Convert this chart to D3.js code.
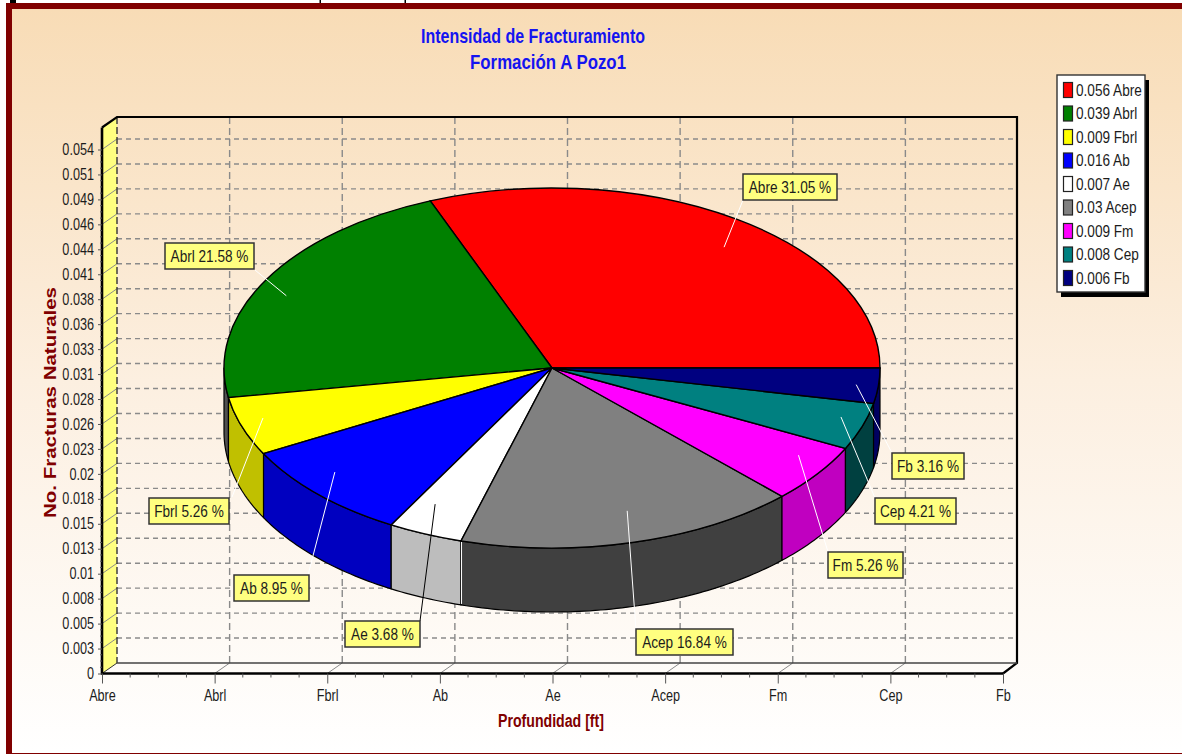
<!DOCTYPE html>
<html><head><meta charset="utf-8">
<script src="https://cdn.jsdelivr.net/npm/d3@7"></script>
<style>
html,body{margin:0;padding:0;background:#fff;overflow:hidden}
svg{display:block}
text{font-family:"Liberation Sans",Arial,sans-serif;fill:#1c1c1c}
</style></head><body>
<svg id="c" width="1182" height="754"></svg>
<script>
// ---- data ----
const categories = ["Abre","Abrl","Fbrl","Ab","Ae","Acep","Fm","Cep","Fb"];
const values = [0.056,0.039,0.009,0.016,0.007,0.03,0.009,0.008,0.006];
const percents = [31.05,21.58,5.26,8.95,3.68,16.84,5.26,4.21,3.16];
const yTickLabels = ["0","0.003","0.005","0.008","0.01","0.013","0.015","0.018","0.02","0.023","0.026","0.028","0.031","0.033","0.036","0.038","0.041","0.044","0.046","0.049","0.051","0.054"];
const titleLines = ["Intensidad de Fracturamiento","Formación A Pozo1"];
const xTitle = "Profundidad [ft]";
const yTitle = "No. Fracturas Naturales";
const yMax = 0.054;

// ---- styles ----
const topColors  = ["#ff0000","#008000","#ffff00","#0000ff","#ffffff","#808080","#ff00ff","#008080","#000080"];
const sideColors = ["#800000","#505050","#c0c000","#0000c0","#bdbdbd","#404040","#c000c0","#004040","#000060"];

// ---- layout ----
const W=1182,H=754;
const plot={x0:102,x1:1003,y0:673.5,y1:149.5,dx:15,dy:-10.5,top:117};
const pieG={cx:552,cy:368,rx:328,ry:180,depth:64};
// callout layout: leader start (polar offset on the pie), leader end and box
const leaderRadius=[.852,.904,.924,.879,.836,.826,.894,.922,.932];
const leaderShift=[-3.9,3,-1.45,-3.4,-2.5,1.9,3.2,1.8,0];
const leaderEnd=[[743,200],[255,270],[232,497],[308,575],[420,621],[636,630],[828,552],[875,498],[892,453]];
const boxes=[[743,174,94],[165,243,89],[149,498,80],[234,575,75],[345,621,75],[636,629,97],[828,552,75],[875,498,81],[892,453,72]];
const narrowAxis=.79, narrowBox=.85;

const svg=d3.select("#c");
const defs=svg.append("defs");
const lg=defs.append("linearGradient").attr("id","bg").attr("x1",0).attr("x2",0).attr("y1",0).attr("y2",1);
lg.append("stop").attr("offset",0).attr("stop-color","#f8dcb6");
lg.append("stop").attr("offset",.5).attr("stop-color","#fcefe0");
lg.append("stop").attr("offset",1).attr("stop-color","#ffffff");

// frame
svg.append("rect").attr("x",6).attr("y",3).attr("width",W-6).attr("height",751).attr("fill","#800000");
svg.append("rect").attr("x",12).attr("y",9).attr("width",W-12).attr("height",744).attr("fill","url(#bg)");

// fragments of a cropped page heading above the frame
svg.selectAll("rect.cut").data([[10,6],[319.5,1.5],[404.5,1.5]]).join("rect").attr("class","cut")
  .attr("x",d=>d[0]).attr("y",0).attr("width",d=>d[1]).attr("height",3).attr("fill","#000");

// scales
const x=d3.scalePoint().domain(categories).range([plot.x0,plot.x1]);
const y=d3.scaleLinear().domain([0,yMax]).range([plot.y0,plot.y1]);
const yTicks=yTickLabels.map((_,i)=>i*yMax/(yTickLabels.length-1));
const gridCol="#8a8a8a";

// left wall
const wall=d3.line();
svg.append("path").attr("d",wall([[plot.x0,plot.top-plot.dy],[plot.x0+plot.dx,plot.top],[plot.x0+plot.dx,plot.y0+plot.dy],[plot.x0,plot.y0]])+"Z").attr("fill","#ffff80");

// grid
const g=svg.append("g").attr("fill","none").attr("stroke",gridCol);
g.selectAll("line.h").data(yTicks.slice(1)).join("line").attr("class","h")
  .attr("x1",plot.x0+plot.dx).attr("x2",plot.x1+plot.dx-2)
  .attr("y1",d=>y(d)+plot.dy).attr("y2",d=>y(d)+plot.dy)
  .attr("stroke-width",1.4).attr("stroke-dasharray","5 4");
g.selectAll("line.w").data(yTicks.slice(1)).join("line").attr("class","w")
  .attr("x1",plot.x0).attr("x2",plot.x0+plot.dx)
  .attr("y1",d=>y(d)).attr("y2",d=>y(d)+plot.dy).attr("stroke-width",1);
g.selectAll("line.v").data(categories.slice(1,-1)).join("line").attr("class","v")
  .attr("x1",d=>x(d)+plot.dx).attr("x2",d=>x(d)+plot.dx)
  .attr("y1",plot.top).attr("y2",plot.y0+plot.dy)
  .attr("stroke-width",1.4).attr("stroke-dasharray","7 4");
g.selectAll("line.f").data(categories.slice(1,-1)).join("line").attr("class","f")
  .attr("x1",d=>x(d)).attr("x2",d=>x(d)+plot.dx)
  .attr("y1",plot.y0).attr("y2",plot.y0+plot.dy).attr("stroke-width",1);
g.append("line").attr("x1",plot.x0+plot.dx).attr("x2",plot.x0+plot.dx).attr("y1",plot.top).attr("y2",plot.y0+plot.dy)
  .attr("stroke","#333").attr("stroke-width",1.4).attr("stroke-dasharray","7 3");

// box edges
const edge=svg.append("g").attr("fill","none").attr("stroke","#000");
const backR=plot.x1+plot.dx-1, backB=plot.y0+plot.dy;
edge.append("path").attr("stroke-width",2.2).attr("d",wall([[plot.x0,plot.top-plot.dy],[plot.x0+plot.dx,plot.top],[backR,plot.top],[backR,backB],[plot.x1,plot.y0]]));
edge.append("line").attr("x1",plot.x0+plot.dx).attr("x2",backR).attr("y1",backB).attr("y2",backB).attr("stroke","#444").attr("stroke-width",1.4);
edge.append("line").attr("x1",plot.x0).attr("x2",plot.x0+plot.dx).attr("y1",plot.y0).attr("y2",backB).attr("stroke","#333").attr("stroke-width",1);

// axes
const yAxis=d3.axisLeft(y).tickValues(yTicks).tickFormat((d,i)=>yTickLabels[i]).tickSize(4).tickPadding(4);
const yG=svg.append("g").attr("transform",`translate(${plot.x0},0)`).call(yAxis);
const xAxis=d3.axisBottom(x).tickSize(10).tickPadding(6);
const xG=svg.append("g").attr("transform",`translate(0,${plot.y0})`).call(xAxis);
[yG,xG].forEach(a=>{a.attr("font-family",null).attr("font-size",null);
  a.selectAll("text").attr("class","nw").attr("font-size",16);
  a.selectAll(".tick line").attr("stroke","#555");
  a.select(".domain").remove();});
edge.append("line").attr("x1",plot.x0).attr("x2",plot.x0).attr("y1",plot.top-plot.dy).attr("y2",plot.y0+1).attr("stroke-width",2.6);
edge.append("line").attr("x1",plot.x0-1).attr("x2",plot.x1+1).attr("y1",plot.y0).attr("y2",plot.y0).attr("stroke-width",2.6);
// minor ticks
const stepX=x.step(),stepY=yTicks[1];
const minorX=d3.range(0,categories.length-1).flatMap(i=>[1,2,3].map(k=>plot.x0+(i+k/4)*stepX));
svg.append("g").selectAll("line").data(minorX).join("line").attr("x1",d=>d).attr("x2",d=>d)
  .attr("y1",plot.y0).attr("y2",plot.y0+4).attr("stroke","#555");
const minorY=d3.range(0,yTicks.length-1).flatMap(i=>[1,2,3].map(k=>(i+k/4)*stepY));
svg.append("g").selectAll("line").data(minorY).join("line").attr("x1",plot.x0-2).attr("x2",plot.x0)
  .attr("y1",d=>y(d)).attr("y2",d=>y(d)).attr("stroke","#555");

// titles
svg.selectAll("text.title").data(titleLines).join("text").attr("class","title")
  .attr("x",(d,i)=>[421,470][i]).attr("y",(d,i)=>[43,69][i])
  .attr("textLength",(d,i)=>[224,156][i]).attr("lengthAdjust","spacingAndGlyphs")
  .attr("font-size",21).attr("font-weight","bold").style("fill","#1414f0").text(d=>d);
svg.append("text").attr("x",498).attr("y",727).attr("textLength",106).attr("lengthAdjust","spacingAndGlyphs")
  .attr("font-size",18).attr("font-weight","bold").style("fill","#800000").text(xTitle);
svg.append("text").attr("transform","translate(56,518) rotate(-90)").attr("textLength",231).attr("lengthAdjust","spacingAndGlyphs")
  .attr("font-size",16).attr("font-weight","bold").style("fill","#800000").text(yTitle);

// pie
const pieFn=d3.pie().value(d=>d.p).sort(null).startAngle(Math.PI/2).endAngle(Math.PI/2-2*Math.PI);
const slices=pieFn(categories.map((c,i)=>({c,p:percents[i],i})));
const ptAt=(a,r=1,dz=0)=>[pieG.cx+pieG.rx*r*Math.sin(a),pieG.cy-pieG.ry*r*Math.cos(a)+dz];
const pieLayer=svg.append("g");
// side walls: only the part on the near half of the ellipse is visible
const hiLim=-Math.PI/2,loLim=-3*Math.PI/2;
const sidePts=s=>{
  const hi=Math.min(s.startAngle,hiLim),lo=Math.max(s.endAngle,loLim);
  if(hi<=lo) return null;
  const n=Math.max(2,Math.ceil((hi-lo)*60));
  const as=d3.range(n+1).map(k=>hi+(lo-hi)*k/n);
  return as.map(a=>ptAt(a)).concat(as.slice().reverse().map(a=>ptAt(a,1,pieG.depth)));
};
pieLayer.selectAll("path.side").data(slices.filter(s=>sidePts(s))).join("path").attr("class","side")
  .attr("d",s=>wall(sidePts(s))+"Z").attr("fill",s=>sideColors[s.data.i])
  .attr("stroke","#000").attr("stroke-width",1.2).attr("stroke-linejoin","round");
// light seam at the right of the white slice's wall
const seamA=slices[4].endAngle;
pieLayer.append("line").attr("x1",ptAt(seamA)[0]+.5).attr("x2",ptAt(seamA)[0]+.5)
  .attr("y1",ptAt(seamA)[1]+1).attr("y2",ptAt(seamA,1,pieG.depth)[1]-1).attr("stroke","#fff").attr("stroke-width",1);
// top face
const arc=d3.arc().innerRadius(0).outerRadius(pieG.rx);
const topG=pieLayer.append("g").attr("transform",`translate(${pieG.cx},${pieG.cy}) scale(1,${pieG.ry/pieG.rx})`);
topG.selectAll("path").data(slices).join("path").attr("d",arc)
  .attr("fill",s=>topColors[s.data.i]).attr("stroke","#000").attr("stroke-width",1.4)
  .attr("vector-effect","non-scaling-stroke");

// leaders
const lead=svg.append("g");
lead.selectAll("line").data(slices).join("line")
  .attr("x1",s=>ptAt((s.startAngle+s.endAngle)/2-leaderShift[s.data.i]*Math.PI/180,leaderRadius[s.data.i])[0])
  .attr("y1",s=>ptAt((s.startAngle+s.endAngle)/2-leaderShift[s.data.i]*Math.PI/180,leaderRadius[s.data.i])[1])
  .attr("x2",s=>leaderEnd[s.data.i][0]).attr("y2",s=>leaderEnd[s.data.i][1])
  .attr("stroke",s=>s.data.i===4?"#000":"#fff").attr("stroke-width",1);

// callouts
const call=svg.append("g").selectAll("g").data(slices).join("g")
  .attr("transform",s=>`translate(${boxes[s.data.i][0]},${boxes[s.data.i][1]})`);
call.append("rect").attr("width",s=>boxes[s.data.i][2]).attr("height",26)
  .attr("fill","#ffff80").attr("stroke","#333").attr("stroke-width",1.5);
call.append("text").attr("class","nb").attr("x",s=>boxes[s.data.i][2]/2).attr("y",18.5).attr("text-anchor","middle").attr("font-size",16)
  .text(s=>`${s.data.c} ${s.data.p.toFixed(2)} %`);

// legend
const lgd=svg.append("g");
lgd.append("rect").attr("x",1061).attr("y",80).attr("width",88).attr("height",217).attr("fill","#000");
lgd.append("rect").attr("x",1057).attr("y",75).attr("width",88).attr("height",217).attr("fill","#fff").attr("stroke","#333").attr("stroke-width",1.4);
const rowY=d3.scalePoint().domain(categories).range([90,278]);
const row=lgd.selectAll("g").data(categories).join("g").attr("transform",d=>`translate(0,${rowY(d)})`);
row.append("rect").attr("x",1063.5).attr("y",-7.5).attr("width",9).attr("height",15)
  .attr("fill",(d,i)=>topColors[i]).attr("stroke","#222").attr("stroke-width",1.2);
row.append("text").attr("class","nb").attr("x",1076).attr("y",5.5).attr("font-size",16).text((d,i)=>`${values[i]} ${d}`);

// condense the UI text to the narrow bitmap-like face of the original
const condense=(sel,f)=>svg.selectAll(sel).each(function(){
  d3.select(this).attr("textLength",this.getComputedTextLength()*f).attr("lengthAdjust","spacingAndGlyphs");
});
condense("text.nw",narrowAxis);
condense("text.nb",narrowBox);
</script>
</body></html>
